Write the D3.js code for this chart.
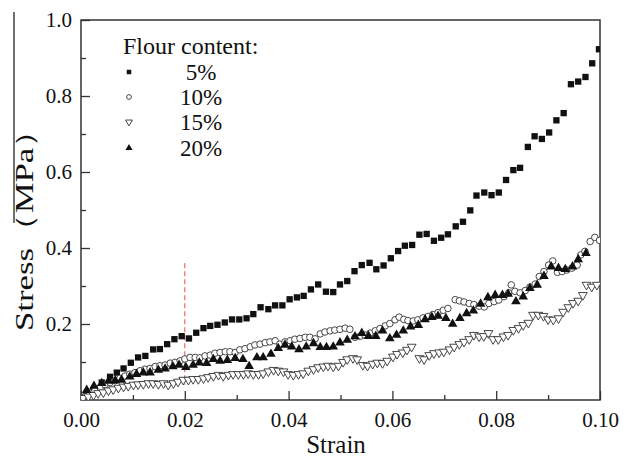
<!DOCTYPE html>
<html>
<head>
<meta charset="utf-8">
<script src="https://cdn.jsdelivr.net/npm/d3@7"></script>
<style>
  body { margin: 0; background: #fff; }
  text { font-family: "Liberation Serif", "Times New Roman", serif; fill: #111; }
</style>
</head>
<body>
<div id="chart"></div>
<script>
var width = 630;
var height = 459;
var margin = {top: 20, right: 30, bottom: 59, left: 81};

var seriesNames = ["5%", "10%", "15%", "20%"];
var xTicks = [0, 0.02, 0.04, 0.06, 0.08, 0.10];
var yTicks = [0.2, 0.4, 0.6, 0.8, 1.0];

// [strain, stress]
var flour5 = [
  [0.0010,0.016],[0.0024,0.026],[0.0040,0.046],[0.0056,0.061],[0.0069,0.072],[0.0082,0.083],
  [0.0096,0.098],[0.0110,0.112],[0.0124,0.116],[0.0139,0.133],[0.0152,0.134],[0.0166,0.147],
  [0.0180,0.160],[0.0194,0.168],[0.0208,0.162],[0.0222,0.177],[0.0236,0.189],[0.0249,0.195],
  [0.0263,0.198],[0.0277,0.204],[0.0291,0.212],[0.0305,0.212],[0.0319,0.215],[0.0332,0.226],
  [0.0346,0.244],[0.0361,0.239],[0.0374,0.249],[0.0388,0.249],[0.0402,0.265],[0.0416,0.270],
  [0.0429,0.274],[0.0443,0.291],[0.0457,0.304],[0.0472,0.285],[0.0486,0.284],[0.0499,0.304],
  [0.0513,0.313],[0.0527,0.339],[0.0541,0.355],[0.0556,0.361],[0.0569,0.344],[0.0583,0.354],
  [0.0597,0.373],[0.0611,0.392],[0.0624,0.406],[0.0638,0.408],[0.0652,0.435],[0.0666,0.437],
  [0.0680,0.419],[0.0694,0.427],[0.0707,0.436],[0.0722,0.457],[0.0736,0.469],[0.0750,0.499],
  [0.0762,0.538],[0.0777,0.546],[0.0791,0.539],[0.0805,0.546],[0.0819,0.579],[0.0833,0.605],
  [0.0846,0.611],[0.0861,0.666],[0.0874,0.694],[0.0888,0.687],[0.0902,0.704],[0.0916,0.736],
  [0.0930,0.755],[0.0944,0.831],[0.0958,0.838],[0.0972,0.850],[0.0985,0.886],[0.0998,0.923]
];

var flour10 = [
  [0.0008,0.009],[0.0017,0.018],[0.0027,0.025],[0.0037,0.033],[0.0046,0.040],[0.0056,0.046],
  [0.0066,0.051],[0.0075,0.057],[0.0085,0.063],[0.0094,0.068],[0.0104,0.072],[0.0114,0.077],
  [0.0123,0.081],[0.0133,0.083],[0.0143,0.088],[0.0152,0.090],[0.0162,0.092],[0.0172,0.097],
  [0.0181,0.099],[0.0191,0.103],[0.0200,0.108],[0.0210,0.112],[0.0220,0.112],[0.0229,0.111],
  [0.0239,0.116],[0.0249,0.118],[0.0258,0.123],[0.0268,0.125],[0.0278,0.127],[0.0287,0.127],
  [0.0297,0.125],[0.0306,0.132],[0.0316,0.135],[0.0326,0.140],[0.0335,0.145],[0.0345,0.147],
  [0.0355,0.151],[0.0364,0.153],[0.0374,0.156],[0.0383,0.147],[0.0393,0.153],[0.0403,0.156],
  [0.0412,0.160],[0.0422,0.162],[0.0432,0.165],[0.0441,0.165],[0.0451,0.161],[0.0461,0.174],
  [0.0470,0.179],[0.0480,0.182],[0.0489,0.184],[0.0499,0.186],[0.0509,0.189],[0.0518,0.186],
  [0.0528,0.165],[0.0538,0.168],[0.0547,0.171],[0.0557,0.176],[0.0567,0.182],[0.0576,0.188],
  [0.0586,0.195],[0.0595,0.201],[0.0605,0.211],[0.0613,0.218],[0.0622,0.212],[0.0630,0.209],
  [0.0640,0.208],[0.0649,0.211],[0.0659,0.216],[0.0669,0.220],[0.0678,0.225],[0.0688,0.230],
  [0.0698,0.236],[0.0707,0.241],[0.0721,0.264],[0.0729,0.261],[0.0738,0.258],[0.0748,0.254],
  [0.0757,0.251],[0.0767,0.247],[0.0777,0.245],[0.0786,0.254],[0.0796,0.259],[0.0805,0.263],
  [0.0815,0.272],[0.0824,0.282],[0.0829,0.303],[0.0836,0.286],[0.0846,0.282],[0.0856,0.288],
  [0.0865,0.297],[0.0875,0.305],[0.0883,0.325],[0.0892,0.338],[0.0901,0.355],[0.0909,0.366],
  [0.0918,0.336],[0.0927,0.338],[0.0936,0.342],[0.0946,0.347],[0.0956,0.355],[0.0963,0.382],
  [0.0971,0.391],[0.0981,0.417],[0.0990,0.428],[0.0999,0.420]
];

var flour15 = [
  [0.0004,0.005],[0.0014,0.009],[0.0024,0.013],[0.0033,0.018],[0.0043,0.020],[0.0053,0.025],
  [0.0062,0.028],[0.0072,0.032],[0.0082,0.035],[0.0091,0.037],[0.0101,0.040],[0.0110,0.041],
  [0.0120,0.042],[0.0130,0.044],[0.0139,0.044],[0.0149,0.042],[0.0159,0.044],[0.0168,0.040],
  [0.0178,0.044],[0.0187,0.048],[0.0197,0.053],[0.0207,0.053],[0.0216,0.055],[0.0226,0.055],
  [0.0236,0.057],[0.0245,0.060],[0.0255,0.063],[0.0265,0.066],[0.0274,0.063],[0.0284,0.066],
  [0.0293,0.068],[0.0303,0.068],[0.0313,0.068],[0.0322,0.070],[0.0332,0.068],[0.0342,0.068],
  [0.0351,0.070],[0.0361,0.075],[0.0371,0.079],[0.0380,0.077],[0.0390,0.075],[0.0399,0.068],
  [0.0409,0.066],[0.0419,0.068],[0.0428,0.070],[0.0438,0.077],[0.0448,0.081],[0.0457,0.086],
  [0.0467,0.088],[0.0476,0.090],[0.0486,0.088],[0.0496,0.090],[0.0505,0.100],[0.0513,0.107],
  [0.0524,0.110],[0.0532,0.107],[0.0543,0.092],[0.0552,0.090],[0.0562,0.095],[0.0571,0.098],
  [0.0581,0.097],[0.0590,0.103],[0.0601,0.114],[0.0609,0.121],[0.0620,0.125],[0.0628,0.132],
  [0.0637,0.140],[0.0652,0.110],[0.0661,0.107],[0.0671,0.118],[0.0680,0.123],[0.0690,0.125],
  [0.0699,0.127],[0.0710,0.133],[0.0719,0.140],[0.0729,0.147],[0.0738,0.153],[0.0748,0.160],
  [0.0757,0.171],[0.0767,0.167],[0.0776,0.168],[0.0785,0.176],[0.0794,0.160],[0.0804,0.160],
  [0.0814,0.167],[0.0823,0.171],[0.0833,0.184],[0.0843,0.189],[0.0852,0.197],[0.0862,0.203],
  [0.0871,0.224],[0.0881,0.224],[0.0891,0.221],[0.0900,0.212],[0.0910,0.211],[0.0920,0.215],
  [0.0929,0.232],[0.0939,0.244],[0.0948,0.255],[0.0958,0.261],[0.0967,0.276],[0.0974,0.303],
  [0.0984,0.298],[0.0994,0.303]
];

var flour20 = [
  [0.0011,0.026],[0.0025,0.037],[0.0040,0.044],[0.0053,0.050],[0.0066,0.051],[0.0078,0.053],
  [0.0094,0.061],[0.0107,0.068],[0.0120,0.072],[0.0133,0.072],[0.0149,0.079],[0.0162,0.082],
  [0.0177,0.088],[0.0189,0.092],[0.0202,0.086],[0.0216,0.092],[0.0228,0.098],[0.0242,0.097],
  [0.0255,0.107],[0.0268,0.103],[0.0282,0.105],[0.0297,0.110],[0.0312,0.107],[0.0324,0.089],
  [0.0339,0.112],[0.0351,0.112],[0.0366,0.121],[0.0380,0.136],[0.0393,0.145],[0.0406,0.140],
  [0.0420,0.133],[0.0434,0.140],[0.0448,0.149],[0.0461,0.139],[0.0473,0.139],[0.0486,0.140],
  [0.0499,0.151],[0.0513,0.158],[0.0528,0.167],[0.0541,0.176],[0.0554,0.168],[0.0568,0.168],
  [0.0581,0.182],[0.0595,0.162],[0.0608,0.171],[0.0621,0.182],[0.0635,0.193],[0.0650,0.197],
  [0.0663,0.212],[0.0676,0.218],[0.0688,0.221],[0.0703,0.215],[0.0716,0.200],[0.0730,0.215],
  [0.0743,0.228],[0.0756,0.235],[0.0770,0.253],[0.0784,0.270],[0.0798,0.276],[0.0812,0.276],
  [0.0823,0.279],[0.0838,0.259],[0.0852,0.272],[0.0865,0.294],[0.0879,0.303],[0.0892,0.326],
  [0.0906,0.351],[0.0920,0.347],[0.0933,0.344],[0.0947,0.351],[0.0958,0.370],[0.0973,0.386]
];

var series = [flour5, flour10, flour15, flour20];
var markStrain = 0.02;
var markRange = [0.04, 0.36];

var svg = d3.select("#chart")
    .append("svg")
    .attr("width", width)
    .attr("height", height);

var x = d3.scaleLinear().domain([0, 0.10]).range([margin.left, width - margin.right]);
var y = d3.scaleLinear().domain([0, 1.0]).range([height - margin.bottom, margin.top]);

svg.append("defs").append("clipPath")
    .attr("id", "plotclip")
    .append("rect")
    .attr("x", x(0)).attr("y", y(1))
    .attr("width", x(0.1) - x(0)).attr("height", y(0) - y(1));

// axes with inward ticks
var xMajor = d3.axisBottom(x).tickValues(xTicks).tickSize(-9).tickPadding(12)
    .tickFormat(d3.format(".2f"));
var xMinor = d3.axisBottom(x).tickValues([0.01, 0.03, 0.05, 0.07, 0.09]).tickSize(-5).tickFormat("");
var yMajor = d3.axisLeft(y).tickValues(yTicks).tickSize(-9).tickPadding(9)
    .tickFormat(d3.format(".1f"));
var yMinor = d3.axisLeft(y).tickValues([0.1, 0.3, 0.5, 0.7, 0.9]).tickSize(-5).tickFormat("");

function styleAxis(g) {
  g.select(".domain").remove();
  g.selectAll("line").attr("stroke", "#333").attr("stroke-width", 1.3);
  g.selectAll("text").style("font-size", "21px").attr("fill", "#111");
}

svg.append("g").attr("transform", "translate(0," + y(0) + ")").call(xMajor).call(styleAxis);
svg.append("g").attr("transform", "translate(0," + y(0) + ")").call(xMinor).call(styleAxis);
svg.append("g").attr("transform", "translate(" + x(0) + ",0)").call(yMajor).call(styleAxis);
svg.append("g").attr("transform", "translate(" + x(0) + ",0)").call(yMinor).call(styleAxis);

svg.append("rect")
    .attr("x", x(0)).attr("y", y(1))
    .attr("width", x(0.1) - x(0)).attr("height", y(0) - y(1))
    .attr("fill", "none").attr("stroke", "#333").attr("stroke-width", 1.5);

// red dashed marker at strain 0.02
svg.append("line")
    .attr("x1", x(markStrain)).attr("x2", x(markStrain))
    .attr("y1", y(markRange[1])).attr("y2", y(markRange[0]))
    .attr("stroke", "#f0484f").attr("stroke-width", 1)
    .attr("stroke-dasharray", "5,3");

var symbols = [d3.symbolSquare, d3.symbolCircle, d3.symbolTriangle, d3.symbolTriangle];
var sizes = [40, 34, 34, 40];
var fills = ["#111", "#fff", "#fff", "#111"];
var strokes = ["none", "#333", "#333", "none"];
var rotations = [0, 0, 180, 0];

var plot = svg.append("g").attr("clip-path", "url(#plotclip)");

series.forEach(function(data, i) {
  plot.append("g")
      .selectAll("path")
      .data(data)
      .enter()
      .append("path")
      .attr("d", d3.symbol().type(symbols[i]).size(sizes[i]))
      .attr("transform", function(d) {
        return "translate(" + x(d[0]) + "," + y(d[1]) + ") rotate(" + rotations[i] + ")";
      })
      .attr("fill", fills[i])
      .attr("stroke", strokes[i])
      .attr("stroke-width", 0.9);
});

// legend
var legend = svg.append("g");
legend.append("text")
    .attr("x", 123).attr("y", 54)
    .style("font-size", "24px")
    .text("Flour content:");

var legendRows = [72, 97, 122, 148];
var legendSizes = [20, 18, 20, 22];
seriesNames.forEach(function(name, i) {
  legend.append("path")
      .attr("d", d3.symbol().type(symbols[i]).size(legendSizes[i]))
      .attr("transform", "translate(129," + legendRows[i] + ") rotate(" + rotations[i] + ")")
      .attr("fill", fills[i])
      .attr("stroke", strokes[i])
      .attr("stroke-width", 0.9);
  legend.append("text")
      .attr("x", 201).attr("y", legendRows[i] + 8)
      .attr("text-anchor", "middle")
      .style("font-size", "23px")
      .text(name);
});

// axis titles
svg.append("text")
    .attr("x", 336).attr("y", 453)
    .attr("text-anchor", "middle")
    .style("font-size", "25px")
    .text("Strain");

svg.append("text")
    .attr("transform", "translate(33,222) rotate(-90)")
    .attr("text-anchor", "middle")
    .attr("textLength", 218)
    .attr("lengthAdjust", "spacingAndGlyphs")
    .style("font-size", "25px")
    .text("Stress（MPa）");

svg.append("line")
    .attr("x1", 14).attr("x2", 14)
    .attr("y1", 12).attr("y2", 223)
    .attr("stroke", "#111").attr("stroke-width", 1.2);
</script>
</body>
</html>
